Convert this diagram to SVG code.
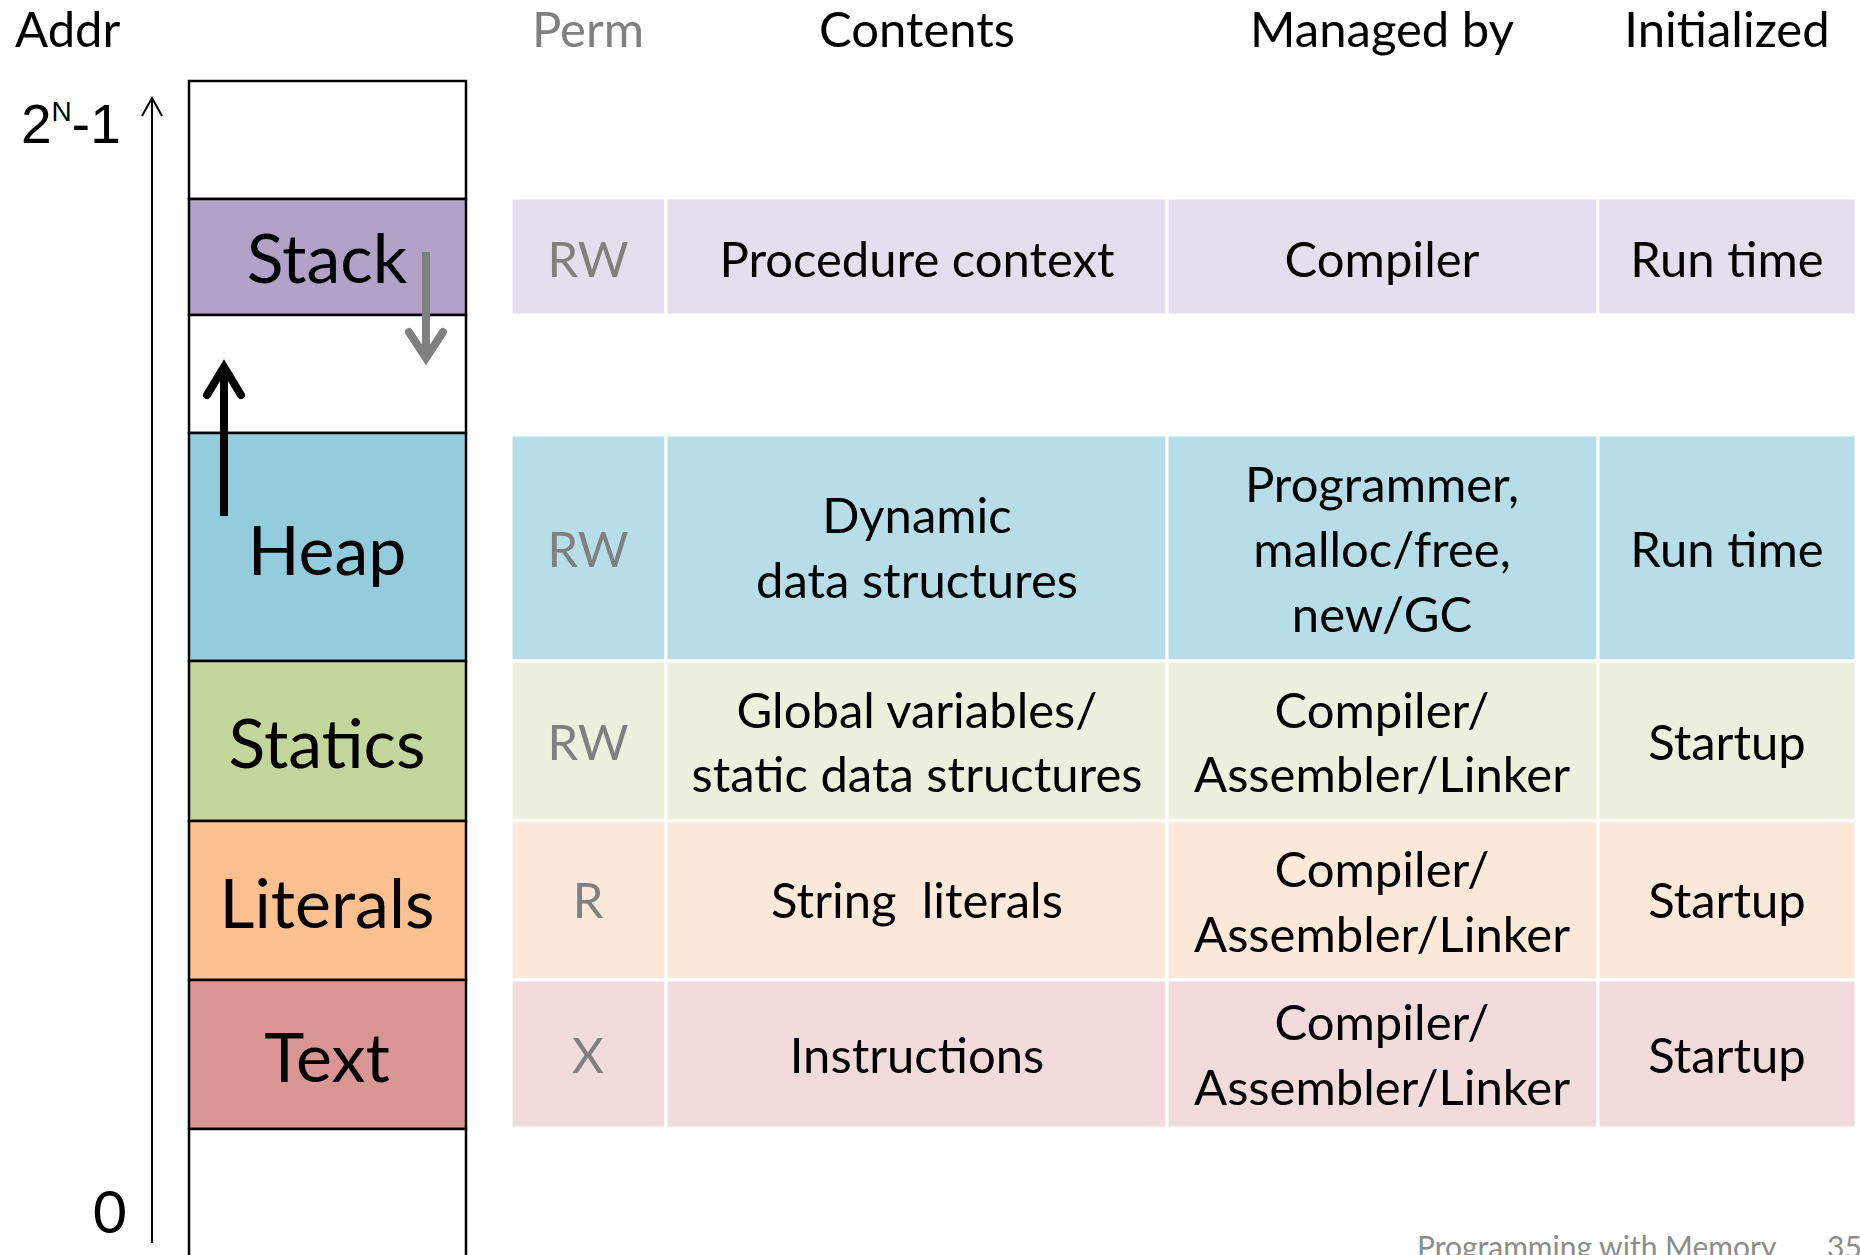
<svg xmlns="http://www.w3.org/2000/svg" width="1860" height="1255" viewBox="0 0 1860 1255">
<style>
text{font-family:Lato,"Open Sans","Liberation Sans",sans-serif;fill:#000}
.hd{font-size:49px;text-anchor:middle}
.t{font-size:49px;text-anchor:middle}
.g{fill:#808080}
.seg{stroke:#000;stroke-width:2.5}
.lbl{font-size:68px;text-anchor:middle}
.cell{stroke:#fff;stroke-width:3}
</style>
<rect width="1860" height="1255" fill="#fff"/>

<!-- headers -->
<g id="headers">
<text x="15" y="47" style="font-size:49px">Addr</text>
<text class="hd g" x="588" y="47">Perm</text>
<text class="hd" x="917" y="47">Contents</text>
<text class="hd" x="1382" y="47">Managed by</text>
<text class="hd" x="1727" y="47">Initialized</text>
</g>

<!-- address axis -->
<g id="axis">
<text x="21" y="143" style="font-family:'Liberation Sans',Arial,sans-serif;font-size:55px">2<tspan dy="-22" style="font-size:28px">N</tspan><tspan dy="22">-1</tspan></text>
<text x="93" y="1233" style="font-size:58px">0</text>
<line x1="152" y1="98" x2="152" y2="1243" stroke="#000" stroke-width="2"/>
<polyline points="142,116 152,98 162,116" fill="none" stroke="#000" stroke-width="2"/>
</g>

<!-- memory column -->
<g id="mem-top"><rect class="seg" x="189" y="81" width="277" height="118" fill="#fff"/></g>
<g id="mem-stack"><rect class="seg" x="189" y="199" width="277" height="116" fill="#b2a2c7"/><text class="lbl" x="327" y="283">Stack</text></g>
<g id="mem-gap"><rect class="seg" x="189" y="315" width="277" height="118" fill="#fff"/></g>
<g id="mem-heap"><rect class="seg" x="189" y="433" width="277" height="228" fill="#93cddd"/><text class="lbl" x="327" y="575">Heap</text></g>
<g id="mem-statics"><rect class="seg" x="189" y="661" width="277" height="160" fill="#c3d69b"/><text class="lbl" x="327" y="768">Statics</text></g>
<g id="mem-literals"><rect class="seg" x="189" y="821" width="277" height="159" fill="#fac090"/><text class="lbl" x="327" y="928">Literals</text></g>
<g id="mem-text"><rect class="seg" x="189" y="980" width="277" height="149" fill="#d99694"/><text class="lbl" x="327" y="1082">Text</text></g>
<g id="mem-bottom"><path class="seg" d="M189,1270 V1129 H466 V1270" fill="#fff"/></g>

<!-- table rows -->
<g id="row-stack">
<rect class="cell" x="511" y="198" width="155" height="117" fill="#e4dfec"/>
<rect class="cell" x="666" y="198" width="501" height="117" fill="#e4dfec"/>
<rect class="cell" x="1167" y="198" width="431" height="117" fill="#e4dfec"/>
<rect class="cell" x="1598" y="198" width="258" height="117" fill="#e4dfec"/>
<text class="t g" x="588" y="277">RW</text>
<text class="t" x="917" y="277">Procedure context</text>
<text class="t" x="1382" y="277">Compiler</text>
<text class="t" x="1727" y="277">Run time</text>
</g>
<g id="row-heap">
<rect class="cell" x="511" y="435" width="155" height="226" fill="#b7dde8"/>
<rect class="cell" x="666" y="435" width="501" height="226" fill="#b7dde8"/>
<rect class="cell" x="1167" y="435" width="431" height="226" fill="#b7dde8"/>
<rect class="cell" x="1598" y="435" width="258" height="226" fill="#b7dde8"/>
<text class="t g" x="588" y="567">RW</text>
<text class="t" x="917" y="533">Dynamic</text>
<text class="t" x="917" y="598">data structures</text>
<text class="t" x="1382" y="502">Programmer,</text>
<text class="t" x="1382" y="567">malloc/free,</text>
<text class="t" x="1382" y="632">new/GC</text>
<text class="t" x="1727" y="567">Run time</text>
</g>
<g id="row-statics">
<rect class="cell" x="511" y="661" width="155" height="160" fill="#ebf1de"/>
<rect class="cell" x="666" y="661" width="501" height="160" fill="#ebf1de"/>
<rect class="cell" x="1167" y="661" width="431" height="160" fill="#ebf1de"/>
<rect class="cell" x="1598" y="661" width="258" height="160" fill="#ebf1de"/>
<text class="t g" x="588" y="760">RW</text>
<text class="t" x="917" y="728">Global variables/</text>
<text class="t" x="917" y="792">static data structures</text>
<text class="t" x="1382" y="728">Compiler/</text>
<text class="t" x="1382" y="792">Assembler/Linker</text>
<text class="t" x="1727" y="760">Startup</text>
</g>
<g id="row-literals">
<rect class="cell" x="511" y="821" width="155" height="159" fill="#fde9d9"/>
<rect class="cell" x="666" y="821" width="501" height="159" fill="#fde9d9"/>
<rect class="cell" x="1167" y="821" width="431" height="159" fill="#fde9d9"/>
<rect class="cell" x="1598" y="821" width="258" height="159" fill="#fde9d9"/>
<text class="t g" x="588" y="918">R</text>
<text class="t" x="917" y="918" xml:space="preserve">String  literals</text>
<text class="t" x="1382" y="887">Compiler/</text>
<text class="t" x="1382" y="952">Assembler/Linker</text>
<text class="t" x="1727" y="918">Startup</text>
</g>
<g id="row-text">
<rect class="cell" x="511" y="980" width="155" height="148" fill="#f2dcdb"/>
<rect class="cell" x="666" y="980" width="501" height="148" fill="#f2dcdb"/>
<rect class="cell" x="1167" y="980" width="431" height="148" fill="#f2dcdb"/>
<rect class="cell" x="1598" y="980" width="258" height="148" fill="#f2dcdb"/>
<text class="t g" x="588" y="1073">X</text>
<text class="t" x="917" y="1073">Instructions</text>
<text class="t" x="1382" y="1040">Compiler/</text>
<text class="t" x="1382" y="1105">Assembler/Linker</text>
<text class="t" x="1727" y="1073">Startup</text>
</g>

<!-- growth arrows -->
<g id="connectors" fill="none" stroke-width="8">
<line x1="426" y1="252" x2="426" y2="356" stroke="#808080"/>
<polyline points="409,332 426,358 443,332" stroke="#808080" stroke-linecap="round" stroke-linejoin="miter"/>
<line x1="224" y1="516" x2="224" y2="369" stroke="#000"/>
<polyline points="207,395 224,367 241,395" stroke="#000" stroke-linecap="round" stroke-linejoin="miter"/>
</g>

<!-- footer -->
<g id="footer">
<text x="1417" y="1258" style="font-size:30px;fill:#8c8c8c">Programming with Memory</text>
<text x="1827" y="1258" style="font-size:30px;fill:#8c8c8c">35</text>
</g>
</svg>
